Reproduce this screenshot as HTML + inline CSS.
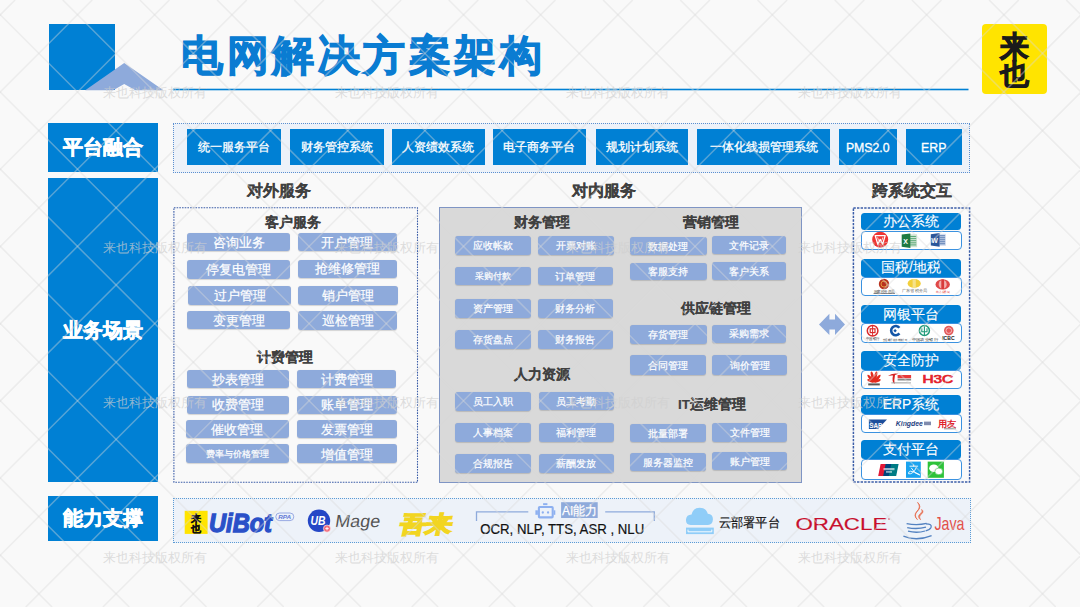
<!DOCTYPE html>
<html><head><meta charset="utf-8">
<style>
*{margin:0;padding:0;box-sizing:border-box}
html,body{width:1080px;height:607px;overflow:hidden;background:#f9f9f9;font-family:"Liberation Sans",sans-serif}
.a{position:absolute}
.lbl{position:absolute;background:#0080d4;color:#fff;font-weight:bold;font-size:20px;-webkit-text-stroke:0.6px #fff;display:flex;align-items:center;justify-content:center;letter-spacing:0px}
.tb{position:absolute;padding-top:1.5px;top:129px;height:35.8px;background:#0080d4;color:#fff;font-size:12.3px;-webkit-text-stroke:0.3px #fff;display:flex;align-items:center;justify-content:center}
.bx{position:absolute;padding-top:1.5px;background:#8eaadb;color:#fff;border-radius:3px;-webkit-text-stroke:0.2px #fff;display:flex;align-items:center;justify-content:center;white-space:nowrap;box-shadow:0 0.5px 1px rgba(0,0,0,0.15)}
.c13{font-size:13px}
.c10{font-size:10.4px}
.h1{position:absolute;margin-top:0.8px;font-weight:bold;color:#404040;-webkit-text-stroke:0.2px #404040;font-size:15.5px;white-space:nowrap}
.h2{position:absolute;margin-top:1.3px;font-weight:bold;color:#404040;-webkit-text-stroke:0.15px #404040;font-size:13.5px;white-space:nowrap}
.dot{position:absolute;border:1px dotted #3f5f9f}
.gh{position:absolute;padding-top:1.5px;left:860.7px;width:100.5px;height:18px;background:#0080d4;color:#fff;font-size:13.8px;-webkit-text-stroke:0.1px #fff;border-radius:3.5px;display:flex;align-items:center;justify-content:center}
.gc{position:absolute;left:860.7px;width:101.3px;height:20px;background:#fff;border:1.3px solid #3b92e0;border-radius:4px}
</style></head><body>
<!-- header -->
<div class="a" style="left:49px;top:23.5px;width:66px;height:66.5px;background:#0080d4"></div>
<svg class="a" style="left:0;top:0" width="1080" height="607">
 <polygon points="85.2,90.2 124.2,63 163.4,90.2 135.4,90.2 124.2,84.1 113.2,90.2" fill="#8eaadb"/>
 <rect x="172.9" y="88.7" width="795.6" height="1.6" fill="#0080d4"/>
</svg>
<div class="a" style="left:181px;top:27.5px;font-size:42px;font-weight:bold;color:#0a7cd2;-webkit-text-stroke:1.1px #0a7cd2;white-space:nowrap;letter-spacing:3.5px">电网解决方案架构</div>
<div class="a" style="left:981.6px;top:24.2px;width:65.8px;height:69.4px;background:#ffe400;border-radius:4px"></div>
<div class="a" style="left:984px;top:30.5px;width:60px;text-align:center;font-size:29px;line-height:30px;font-weight:bold;color:#1a1a1a;-webkit-text-stroke:0.9px #1a1a1a;transform:scaleY(1.04);transform-origin:top">来</div>
<div class="a" style="left:984px;top:60px;width:60px;text-align:center;font-size:29px;line-height:30px;font-weight:bold;color:#1a1a1a;-webkit-text-stroke:0.9px #1a1a1a;transform:scaleY(0.97);transform-origin:top">也</div>

<!-- left labels -->
<div class="lbl" style="left:48px;top:122.5px;width:109.8px;height:49px">平台融合</div>
<div class="lbl" style="left:48px;top:178px;width:109.8px;height:304px">业务场景</div>
<div class="lbl" style="left:48px;top:496px;width:109.8px;height:45px">能力支撑</div>

<!-- top row -->
<div class="a" style="left:173px;top:123px;width:797px;height:50px;background:#edf2f9;border:1px dotted #5b8fd0"></div>
<div class="tb" style="left:187.2px;width:94px">统一服务平台</div>
<div class="tb" style="left:290.2px;width:93.6px">财务管控系统</div>
<div class="tb" style="left:391.5px;width:93.5px">人资绩效系统</div>
<div class="tb" style="left:492.5px;width:93.5px">电子商务平台</div>
<div class="tb" style="left:595.5px;width:92.5px">规划计划系统</div>
<div class="tb" style="left:697px;width:133px">一体化线损管理系统</div>
<div class="tb" style="left:838.5px;width:58.5px">PMS2.0</div>
<div class="tb" style="left:906px;width:55.5px">ERP</div>

<!-- section headers -->
<div class="h1" style="left:247px;top:180px">对外服务</div>
<div class="h1" style="left:571.8px;top:180px">对内服务</div>
<div class="h1" style="left:872px;top:180px">跨系统交互</div>

<!-- external services -->
<svg class="a" style="left:0;top:0" width="1080" height="607"><rect x="173.9" y="207.7" width="243.6" height="274.6" fill="none" stroke="#3c5ea8" stroke-width="1.1" stroke-dasharray="1.6 1.1"/></svg>
<div class="h2" style="left:265px;top:213px">客户服务</div>
<div class="bx c13" style="left:187.4px;top:233px;width:102.8px;height:18.3px">咨询业务</div>
<div class="bx c13" style="left:297.9px;top:233px;width:98.7px;height:18.3px">开户管理</div>
<div class="bx c13" style="left:187.4px;top:260px;width:102.8px;height:18.5px">停复电管理</div>
<div class="bx c13" style="left:297.9px;top:259.5px;width:98.7px;height:18.3px">抢维修管理</div>
<div class="bx c13" style="left:188.4px;top:286px;width:102.3px;height:18.5px">过户管理</div>
<div class="bx c13" style="left:297.9px;top:286px;width:100.6px;height:18.5px">销户管理</div>
<div class="bx c13" style="left:187.4px;top:310.7px;width:102.3px;height:18.6px">变更管理</div>
<div class="bx c13" style="left:297.9px;top:311.2px;width:99.4px;height:18.8px">巡检管理</div>
<div class="h2" style="left:257px;top:348px">计费管理</div>
<div class="bx c13" style="left:186.7px;top:369.5px;width:102.2px;height:18.6px">抄表管理</div>
<div class="bx c13" style="left:297px;top:369.5px;width:99.2px;height:18.6px">计费管理</div>
<div class="bx c13" style="left:186.7px;top:395.5px;width:102.2px;height:18.2px">收费管理</div>
<div class="bx c13" style="left:297px;top:395.5px;width:99.7px;height:18.2px">账单管理</div>
<div class="bx c13" style="left:186px;top:420px;width:102.9px;height:18.4px">催收管理</div>
<div class="bx c13" style="left:297px;top:420px;width:99.7px;height:18.4px">发票管理</div>
<div class="bx" style="left:186px;top:444.3px;width:102.9px;height:18.9px;font-size:9px">费率与价格管理</div>
<div class="bx c13" style="left:297px;top:444.3px;width:99.7px;height:18.9px">增值管理</div>

<!-- internal services -->
<div class="a" style="left:438.7px;top:207.4px;width:362.9px;height:275.5px;background:#d9d9d9;border:1.5px solid #7f95c4"></div>
<div class="h2" style="left:513.8px;top:213px">财务管理</div>
<div class="bx c10" style="left:454.5px;top:236.4px;width:76.9px;height:18.4px">应收帐款</div>
<div class="bx c10" style="left:538px;top:236.4px;width:75.7px;height:18.4px">开票对账</div>
<div class="bx c10" style="left:454.5px;top:266.7px;width:76.9px;height:18.4px;font-size:9.2px">采购付款</div>
<div class="bx c10" style="left:538px;top:266.7px;width:74.6px;height:18.4px">订单管理</div>
<div class="bx c10" style="left:454.5px;top:299.3px;width:76.9px;height:18.5px">资产管理</div>
<div class="bx c10" style="left:538px;top:299.3px;width:74.6px;height:18.5px">财务分析</div>
<div class="bx c10" style="left:454.5px;top:329.9px;width:76.9px;height:19px">存货盘点</div>
<div class="bx c10" style="left:538px;top:329.9px;width:74.6px;height:19px">财务报告</div>
<div class="h2" style="left:514.2px;top:365px">人力资源</div>
<div class="bx c10" style="left:454.7px;top:392.2px;width:76.8px;height:18.4px">员工入职</div>
<div class="bx c10" style="left:539px;top:391.5px;width:74.8px;height:18.5px">员工考勤</div>
<div class="bx c10" style="left:454.7px;top:423.3px;width:76.8px;height:18.5px">人事档案</div>
<div class="bx c10" style="left:539px;top:423.3px;width:74.8px;height:18.5px">福利管理</div>
<div class="bx c10" style="left:454.7px;top:454.2px;width:76.8px;height:18.7px">合规报告</div>
<div class="bx c10" style="left:539px;top:454.2px;width:74.8px;height:18.7px">薪酬发放</div>

<div class="h2" style="left:682.5px;top:213px">营销管理</div>
<div class="bx c10" style="left:630.3px;top:236.9px;width:76.4px;height:17.9px">数据处理</div>
<div class="bx c10" style="left:712.2px;top:235.6px;width:74.3px;height:18.4px">文件记录</div>
<div class="bx c10" style="left:630.3px;top:262.5px;width:76.4px;height:17.9px">客服支持</div>
<div class="bx c10" style="left:712.2px;top:262px;width:74.3px;height:17.8px">客户关系</div>
<div class="h2" style="left:681.1px;top:299px">供应链管理</div>
<div class="bx c10" style="left:630.3px;top:325.2px;width:76.4px;height:18.4px">存货管理</div>
<div class="bx c10" style="left:712.2px;top:324.6px;width:74.3px;height:18.2px">采购需求</div>
<div class="bx c10" style="left:630.3px;top:355.3px;width:76.1px;height:19.3px">合同管理</div>
<div class="bx c10" style="left:712.1px;top:355.3px;width:75.2px;height:19.3px">询价管理</div>
<div class="h2" style="left:678px;top:394.5px">IT运维管理</div>
<div class="bx c10" style="left:630.3px;top:424px;width:76.1px;height:18.1px">批量部署</div>
<div class="bx c10" style="left:712.1px;top:423.3px;width:75.2px;height:18.6px">文件管理</div>
<div class="bx c10" style="left:630.3px;top:452.5px;width:76.1px;height:18.5px">服务器监控</div>
<div class="bx c10" style="left:712.1px;top:451.7px;width:75.2px;height:18.6px">账户管理</div>

<!-- arrow -->
<svg class="a" style="left:0;top:0" width="1080" height="607">
 <polygon points="819,324.4 829.4,313.8 829.4,319.5 835,319.5 835,313.8 845,324.4 835,334.9 835,329.4 829.4,329.4 829.4,334.9" fill="#8eaadb"/>
</svg>

<!-- cross-system -->
<svg class="a" style="left:0;top:0" width="1080" height="607"><rect x="853.4" y="208.1" width="116.2" height="274" fill="none" stroke="#3c5ea8" stroke-width="1.5" stroke-dasharray="2.4 1.2"/></svg>
<div class="gc" style="top:230.5px;height:19.8px"></div>
<div class="gh" style="top:212.9px;height:17.6px">办公系统</div>
<div class="gc" style="top:276.6px;height:19px"></div>
<div class="gh" style="top:258.5px;height:18.1px">国税/地税</div>
<div class="gc" style="top:323px;height:19.5px"></div>
<div class="gh" style="top:304.9px;height:18.1px">网银平台</div>
<div class="gc" style="top:370px;height:18.9px"></div>
<div class="gh" style="top:351px;height:19px">安全防护</div>
<div class="gc" style="top:414px;height:19.4px"></div>
<div class="gh" style="top:395px;height:19px">ERP系统</div>
<div class="gc" style="top:459.3px;height:20.4px"></div>
<div class="gh" style="top:440px;height:19.3px">支付平台</div>

<svg class="a" style="left:0;top:0" width="1080" height="607">
<!-- WPS -->
<circle cx="880.2" cy="239.7" r="8" fill="#ee3434"/>
<path d="M875.2,235.6 H885.2 L882.6,244.2 L880.2,239.4 L877.8,244.2 Z" fill="none" stroke="#fff" stroke-width="1.3" stroke-linejoin="round"/>
<path d="M877.6,237.4 L878.6,240.6 M882.8,237.4 L881.8,240.6" stroke="#fff" stroke-width="0.8"/>
<!-- Excel -->
<rect x="909" y="234.3" width="8.1" height="12.9" fill="#cfe3d3"/>
<path d="M910.2,236.5h6M910.2,238.6h6M910.2,240.7h6M910.2,242.8h6M910.2,244.9h6" stroke="#3b9a5d" stroke-width="0.8"/>
<path d="M901.7,234.6 L910.4,233.4 L910.4,248 L901.7,246.8 Z" fill="#1f7a43"/>
<text x="903.3" y="244.2" font-size="7" font-weight="bold" fill="#fff" font-family="Liberation Sans, sans-serif">X</text>
<!-- Word -->
<rect x="938.5" y="233.8" width="7.3" height="12.1" fill="#d3ddef"/>
<path d="M939.6,235.8h5.5M939.6,237.8h5.5M939.6,239.8h5.5M939.6,241.8h5.5M939.6,243.8h5.5" stroke="#2b579a" stroke-width="0.8"/>
<path d="M930.8,234.2 L939.6,233 L939.6,246.8 L930.8,245.6 Z" fill="#2b579a"/>
<text x="931.3" y="243" font-size="7" font-weight="bold" fill="#fff" font-family="Liberation Sans, sans-serif">W</text>
<!-- tax emblems -->
<circle cx="884" cy="284" r="5.2" fill="#b8321e"/>
<circle cx="884" cy="284" r="3" fill="none" stroke="#e8a040" stroke-width="0.9"/>
<text x="873.5" y="293.2" font-size="3.6" fill="#333" textLength="21.5" lengthAdjust="spacingAndGlyphs">国家税务总局</text><rect x="873.5" y="293.4" width="21.5" height="0.5" fill="#333"/>
<ellipse cx="914.2" cy="283.4" rx="6.6" ry="4.3" fill="#f2cf3c"/>
<rect x="912.6" y="279.2" width="3.2" height="9" fill="#f6e28a"/>
<text x="902" y="292.4" font-size="3.8" fill="#555" textLength="25" lengthAdjust="spacingAndGlyphs">广东省税务局</text>
<ellipse cx="942.7" cy="284.4" rx="7.2" ry="5.2" fill="#e04848"/>
<ellipse cx="942.7" cy="284.4" rx="4" ry="4.5" fill="#f1b0ae"/>
<rect x="941.3" y="279.5" width="2.8" height="9.6" fill="#d83a3a"/>
<text x="936" y="293" font-size="3" fill="#d33" textLength="14" lengthAdjust="spacingAndGlyphs">地方税务局</text>
<!-- banks -->
<circle cx="872.6" cy="330.8" r="5.3" fill="none" stroke="#d92a2a" stroke-width="1.5"/>
<rect x="870.2" y="328.8" width="4.8" height="3.8" fill="none" stroke="#d92a2a" stroke-width="1.2"/>
<path d="M872.6,325.8v10" stroke="#d92a2a" stroke-width="1"/>
<text x="865.8" y="340.4" font-size="3.6" fill="#333" textLength="13.8" lengthAdjust="spacingAndGlyphs">中国银行</text>
<path d="M899.4,327.8 A4.6,4.6 0 1 0 899.4,333.4" fill="none" stroke="#1456a8" stroke-width="2.6"/>
<rect x="893.9" y="329.6" width="2.4" height="2.4" fill="#1456a8" transform="rotate(45 895.1 330.8)"/>
<text x="882.8" y="341" font-size="3.4" fill="#333" textLength="24.6" lengthAdjust="spacingAndGlyphs">交通银行股份有限公司</text>
<circle cx="924.4" cy="330.5" r="5" fill="none" stroke="#1e9a78" stroke-width="1.5"/>
<path d="M924.4,326v9M921.8,328.3v3.5h5.2v-3.5" fill="none" stroke="#1e9a78" stroke-width="1.1"/>
<text x="911.5" y="340.8" font-size="3.8" fill="#333" textLength="26.4" lengthAdjust="spacingAndGlyphs">中国农业银行</text>
<circle cx="948.8" cy="330.6" r="4.8" fill="#e25858"/>
<circle cx="948.8" cy="330.6" r="2.8" fill="none" stroke="#fbd0d0" stroke-width="0.8"/>
<text x="942.2" y="340" font-size="5.4" font-weight="bold" fill="#222" textLength="12.4" lengthAdjust="spacingAndGlyphs">ICBC</text>
<!-- security -->
<g fill="#e32a1e"><ellipse cx="874" cy="378.60" rx="1.3" ry="3.50" transform="rotate(-66 874 382.4)"/><ellipse cx="874" cy="377.30" rx="1.4" ry="4.80" transform="rotate(-40 874 382.4)"/><ellipse cx="874" cy="376.60" rx="1.4" ry="5.50" transform="rotate(-14 874 382.4)"/><ellipse cx="874" cy="376.60" rx="1.4" ry="5.50" transform="rotate(14 874 382.4)"/><ellipse cx="874" cy="377.30" rx="1.4" ry="4.80" transform="rotate(40 874 382.4)"/><ellipse cx="874" cy="378.60" rx="1.3" ry="3.50" transform="rotate(66 874 382.4)"/></g>
<rect x="868.2" y="383.4" width="11.6" height="2" fill="#222" opacity="0.75"/>
<path d="M888,376 Q892,372.6 898.5,373.8 L895,375 Q894,380 894.5,384 Q891.5,381.5 893,375.6 Q890,375.4 888,376Z" fill="#d62222"/>
<rect x="897.6" y="375" width="13.5" height="3.2" fill="#e83a3a"/>
<rect x="897.6" y="378.7" width="13.5" height="1.8" fill="#555" opacity="0.7"/>
<rect x="891.4" y="382" width="19.5" height="1.6" fill="#888" opacity="0.5"/>
<text x="922.4" y="382.5" font-size="11" fill="#e3232c" stroke="#e3232c" stroke-width="0.7" font-family="Liberation Sans, sans-serif" textLength="30.8" lengthAdjust="spacingAndGlyphs">H3C</text>
<!-- ERP -->
<path d="M868.9,419.4 H887 L878,429.1 H868.9 Z" fill="#1d4f9c"/>
<text x="869.3" y="427.6" font-size="8" font-weight="bold" fill="#fff" font-family="Liberation Sans, sans-serif" textLength="13" lengthAdjust="spacingAndGlyphs">SAP</text>
<text x="895.8" y="426.4" font-size="7.6" font-weight="bold" font-style="italic" fill="#1f3f7f" font-family="Liberation Sans, sans-serif" textLength="27" lengthAdjust="spacingAndGlyphs">Kingdee</text>
<rect x="924" y="421.6" width="7" height="3.6" fill="#4a5a8a" opacity="0.7"/>
<text x="937.6" y="426.9" font-size="9.2" font-weight="bold" fill="#e0202a" textLength="18.4" lengthAdjust="spacingAndGlyphs">用友</text>
<rect x="944" y="427.8" width="12" height="1.6" fill="#777" opacity="0.6"/>
<!-- pay -->
<path d="M880.6,464 H886.6 L884.2,476 H878.2 Z" fill="#e21836"/>
<path d="M885.6,464 H892.2 L889.8,476 H883.2 Z" fill="#00447c"/>
<path d="M891.2,464 H898.6 L896.2,476 H888.8 Z" fill="#007b84"/>
<rect x="883.5" y="468" width="11" height="2.2" fill="#fff" opacity="0.6"/>
<rect x="886" y="471" width="6" height="1.8" fill="#fff" opacity="0.55"/>
<rect x="906" y="461.6" width="14.8" height="16.2" fill="#1aa3ef"/>
<path d="M909.5,466.2h8.6M913.6,464.6v1.8M911.2,467.8 Q914.5,474 919.8,475.2 M916.4,467.4 Q913,474.6 908.6,473.8 Q907.8,472 910.4,471.2 Q914,471.4 919.8,474.6" fill="none" stroke="#fff" stroke-width="0.9"/>
<rect x="927.7" y="461.6" width="16.2" height="16.2" fill="#2dc23a"/>
<ellipse cx="933.8" cy="468.2" rx="4.6" ry="3.8" fill="#fff"/>
<ellipse cx="938.8" cy="471.4" rx="3.9" ry="3.3" fill="#fff" stroke="#2dc23a" stroke-width="0.6"/>
</svg>

<!-- ability row -->
<div class="a" style="left:173.2px;top:498.4px;width:798px;height:44.7px;background:#edf2f9;border:1px dotted #5b9bd5"></div>

<svg class="a" style="left:0;top:0" width="1080" height="607" font-family="Liberation Sans, sans-serif">
<!-- laiye square -->
<rect x="184.7" y="510.8" width="22.9" height="23.1" fill="#ffe400"/>
<text x="196.2" y="521.8" font-size="10.4" font-weight="bold" fill="#111" stroke="#111" stroke-width="0.35" text-anchor="middle">来</text>
<text x="196.2" y="531.6" font-size="10.4" font-weight="bold" fill="#111" stroke="#111" stroke-width="0.35" text-anchor="middle">也</text>
<text x="209" y="532.2" font-size="26" font-weight="bold" font-style="italic" fill="#2a50c8" stroke="#2a50c8" stroke-width="1.3" textLength="63"  lengthAdjust="spacingAndGlyphs">UiBot</text>
<rect x="275.8" y="513" width="18" height="7.6" rx="3.8" fill="none" stroke="#8ea2e0" stroke-width="0.9"/>
<text x="278.2" y="519.2" font-size="5.6" font-weight="bold" font-style="italic" fill="#5f78d6" textLength="13" lengthAdjust="spacingAndGlyphs">RPA</text>
<!-- UB Mage -->
<circle cx="319" cy="520.8" r="11.2" fill="#2547c6"/>
<text x="310.5" y="525.4" font-size="12" font-weight="bold" font-style="italic" fill="#fff" textLength="15" lengthAdjust="spacingAndGlyphs">UB</text>
<circle cx="327" cy="528.6" r="3.6" fill="#f06a7a" stroke="#fff" stroke-width="0.6"/>
<path d="M325.3,528.6h3.4M327,526.9v3.4" stroke="#fff" stroke-width="0.9"/>
<text x="0" y="0" font-size="17.3" fill="#555" textLength="45" lengthAdjust="spacingAndGlyphs" transform="translate(334.5,527.4) skewX(-9)">Mage</text>
<!-- wulai -->
<text x="0" y="0" font-size="22.5" font-weight="bold" fill="#f2d520" stroke="#f2d520" stroke-width="1.6" textLength="52" lengthAdjust="spacingAndGlyphs" transform="translate(399,531.6) skewX(-12)">吾来</text>
<!-- AI bracket -->
<path d="M476.5,521.1 V511.9 H528.3 M605.2,511.9 H654.3 V521.1" fill="none" stroke="#8eaadb" stroke-width="1.3"/>
<rect x="543.1" y="503.2" width="4.3" height="1.9" fill="#8db0f0"/><rect x="538.9" y="507" width="13.8" height="10.4" rx="0.8" fill="none" stroke="#8db0f0" stroke-width="2.1"/><rect x="535.4" y="510.3" width="2.5" height="4.5" fill="#8db0f0"/><rect x="553.7" y="510.3" width="1.6" height="4.5" fill="#8db0f0"/><circle cx="542.8" cy="512.5" r="1.15" fill="#8db0f0"/><circle cx="548.05" cy="512.5" r="1.15" fill="#8db0f0"/>
<rect x="561.1" y="502.2" width="36.6" height="15.8" fill="#8eaadb"/>
<text x="562" y="515.4" font-size="13" fill="#fff" stroke="#fff" stroke-width="0.25" textLength="35" lengthAdjust="spacingAndGlyphs">AI能力</text>
<text x="480.2" y="534.4" font-size="14.6" fill="#111" stroke="#111" stroke-width="0.2" textLength="164" lengthAdjust="spacingAndGlyphs">OCR, NLP, TTS, ASR , NLU</text>
<!-- cloud -->
<path d="M690.6,524.9 Q685.6,524.6 686,519.4 Q686.4,514.6 691.6,514.4 Q693.2,507.7 699.6,507.7 Q706.2,507.7 707.8,513.8 Q713.2,514.4 712.9,519.6 Q712.6,524.9 708,524.9 Z" fill="#90cdf8"/>
<rect x="686" y="527.6" width="27.8" height="6.5" fill="#90cdf8"/>
<path d="M688,529.6 V531.8 H711.8 V529.6" fill="none" stroke="#fff" stroke-width="0.9"/>
<text x="718.6" y="526.6" font-size="12.6" fill="#111" stroke="#111" stroke-width="0.2" textLength="61.5" lengthAdjust="spacingAndGlyphs">云部署平台</text>
<!-- oracle -->
<text x="795.5" y="529.8" font-size="16.2" fill="#c8102e" stroke="#c8102e" stroke-width="0.15" textLength="91.8" lengthAdjust="spacingAndGlyphs">ORACLE</text>
<circle cx="889" cy="519" r="0.7" fill="#c8102e"/>
<!-- java -->
<path d="M917.6,502.4 Q921.5,507 916.8,511.4 Q913,515.6 917.4,519.6 Q913.2,515.2 917.8,510.8 Q922,506.6 917.6,502.4 Z" fill="#e76f51" stroke="#e76f51" stroke-width="0.8"/>
<path d="M921.6,509.4 Q924.8,511.8 920.8,514.6 Q918.4,516.8 920.6,519.8 Q916.6,516.6 920.2,513.8 Q923,511.6 921.6,509.4 Z" fill="#e76f51" stroke="#e76f51" stroke-width="0.6"/>
<g fill="none" stroke="#5382c1" stroke-width="1.3">
<path d="M906.6,523.6 Q917,525.6 926.6,523.4"/>
<path d="M907.2,527.6 Q916.8,529.6 926,527.2"/>
<path d="M908,531.2 Q917,533.4 925,531"/>
<path d="M926,523.8 Q932.4,523.8 931,527.4 Q930,529.6 925.6,530.8"/>
<path d="M903.4,536.2 Q916.8,541.6 931.6,535.6"/>
</g>
<text x="934.4" y="530.2" font-size="19" fill="#e3504a" textLength="30" lengthAdjust="spacingAndGlyphs">Java</text>
</svg>

<!-- watermark overlay -->
<svg class="a" style="left:0;top:0;pointer-events:none" width="1080" height="607">
<g stroke="#dadada" stroke-opacity="0.4" stroke-width="1.5"><line x1="-554.9" y1="0" x2="52.1" y2="607"/><line x1="-477.7" y1="0" x2="129.3" y2="607"/><line x1="-400.5" y1="0" x2="206.5" y2="607"/><line x1="-323.3" y1="0" x2="283.7" y2="607"/><line x1="-246.1" y1="0" x2="360.9" y2="607"/><line x1="-168.9" y1="0" x2="438.1" y2="607"/><line x1="-91.7" y1="0" x2="515.3" y2="607"/><line x1="-14.5" y1="0" x2="592.5" y2="607"/><line x1="62.7" y1="0" x2="669.7" y2="607"/><line x1="139.9" y1="0" x2="746.9" y2="607"/><line x1="217.1" y1="0" x2="824.1" y2="607"/><line x1="294.3" y1="0" x2="901.3" y2="607"/><line x1="371.5" y1="0" x2="978.5" y2="607"/><line x1="448.7" y1="0" x2="1055.7" y2="607"/><line x1="525.9" y1="0" x2="1132.9" y2="607"/><line x1="603.1" y1="0" x2="1210.1" y2="607"/><line x1="680.3" y1="0" x2="1287.3" y2="607"/><line x1="757.5" y1="0" x2="1364.5" y2="607"/><line x1="834.7" y1="0" x2="1441.7" y2="607"/><line x1="911.9" y1="0" x2="1518.9" y2="607"/><line x1="989.1" y1="0" x2="1596.1" y2="607"/><line x1="1066.3" y1="0" x2="1673.3" y2="607"/><line x1="15.1" y1="0" x2="-591.9" y2="607"/><line x1="92.3" y1="0" x2="-514.7" y2="607"/><line x1="169.5" y1="0" x2="-437.5" y2="607"/><line x1="246.7" y1="0" x2="-360.3" y2="607"/><line x1="323.9" y1="0" x2="-283.1" y2="607"/><line x1="401.1" y1="0" x2="-205.9" y2="607"/><line x1="478.3" y1="0" x2="-128.7" y2="607"/><line x1="555.5" y1="0" x2="-51.5" y2="607"/><line x1="632.7" y1="0" x2="25.7" y2="607"/><line x1="709.9" y1="0" x2="102.9" y2="607"/><line x1="787.1" y1="0" x2="180.1" y2="607"/><line x1="864.3" y1="0" x2="257.3" y2="607"/><line x1="941.5" y1="0" x2="334.5" y2="607"/><line x1="1018.7" y1="0" x2="411.7" y2="607"/><line x1="1095.9" y1="0" x2="488.9" y2="607"/><line x1="1173.1" y1="0" x2="566.1" y2="607"/><line x1="1250.3" y1="0" x2="643.3" y2="607"/><line x1="1327.5" y1="0" x2="720.5" y2="607"/><line x1="1404.7" y1="0" x2="797.7" y2="607"/><line x1="1481.9" y1="0" x2="874.9" y2="607"/><line x1="1559.1" y1="0" x2="952.1" y2="607"/><line x1="1636.3" y1="0" x2="1029.3" y2="607"/></g>
<g fill="#cfcfcf" fill-opacity="0.7" font-size="13" font-family="Liberation Sans, sans-serif"><text x="103.2" y="97.1">来也科技版权所有</text><text x="334.8" y="97.1">来也科技版权所有</text><text x="566.4" y="97.1">来也科技版权所有</text><text x="798" y="97.1">来也科技版权所有</text><text x="103.2" y="251.9">来也科技版权所有</text><text x="334.8" y="251.9">来也科技版权所有</text><text x="566.4" y="251.9">来也科技版权所有</text><text x="798" y="251.9">来也科技版权所有</text><text x="103.2" y="406.8">来也科技版权所有</text><text x="334.8" y="406.8">来也科技版权所有</text><text x="566.4" y="406.8">来也科技版权所有</text><text x="798" y="406.8">来也科技版权所有</text><text x="103.2" y="561.5">来也科技版权所有</text><text x="334.8" y="561.5">来也科技版权所有</text><text x="566.4" y="561.5">来也科技版权所有</text><text x="798" y="561.5">来也科技版权所有</text></g>
</svg>

</body></html>
